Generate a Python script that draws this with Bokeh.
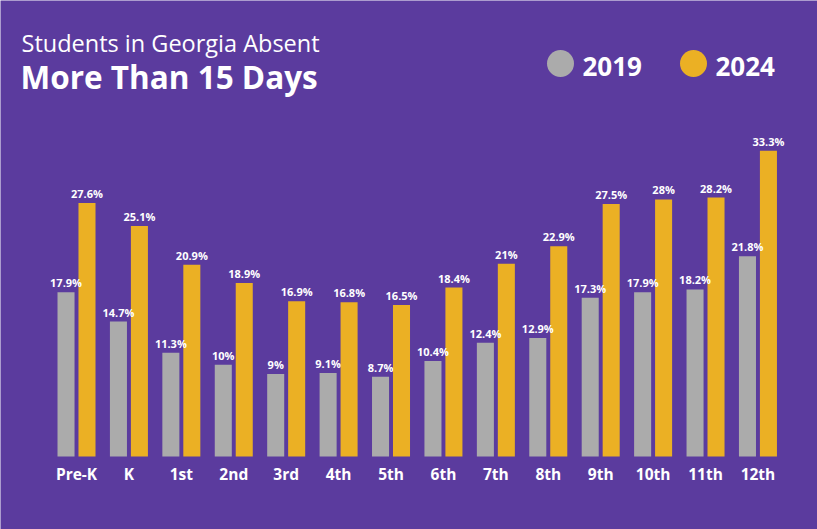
from bokeh.plotting import figure
from bokeh.models import ColumnDataSource, Range1d, Label
from bokeh.core.properties import value
from bokeh.embed import file_html
from bokeh.resources import INLINE

grades = ["Pre-K", "K", "1st", "2nd", "3rd", "4th", "5th", "6th", "7th", "8th", "9th", "10th", "11th", "12th"]
y2019 = [17.9, 14.7, 11.3, 10, 9, 9.1, 8.7, 10.4, 12.4, 12.9, 17.3, 17.9, 18.2, 21.8]
y2024 = [27.6, 25.1, 20.9, 18.9, 16.9, 16.8, 16.5, 18.4, 21, 22.9, 27.5, 28, 28.2, 33.3]
series = ["2019", "2024"]

BG = "#5b3b9e"
GRAY = "#ababab"
GOLD = "#ebb024"
FONT = "Open Sans"

W, H = 817, 529
X0, X1 = -1.450, 14.136
Y0, Y1 = -7.95, 49.67

p = figure(width=W, height=H, x_range=Range1d(X0, X1), y_range=Range1d(Y0, Y1),
           output_backend="svg", toolbar_location=None, min_border=0,
           x_axis_location=None, y_axis_location=None,
           background_fill_color=BG, border_fill_color=BG, outline_line_color=None)
p.grid.visible = False

idx = list(range(len(grades)))
off = 0.2
bw = 0.325
s19 = ColumnDataSource(dict(x=[i - off for i in idx], top=y2019,
                            lab=[f"{v:g}%" for v in y2019]))
s24 = ColumnDataSource(dict(x=[i + off for i in idx], top=y2024,
                            lab=[f"{v:g}%" for v in y2024]))
p.vbar(x="x", top="top", bottom=0, width=bw, source=s19, fill_color=GRAY, line_color=None)
p.vbar(x="x", top="top", bottom=0, width=bw, source=s24, fill_color=GOLD, line_color=None)

for src in (s19, s24):
    p.text(x="x", y="top", text="lab", source=src, text_align="center", text_baseline="bottom",
           y_offset=-2, text_color="white", text_font=value(FONT), text_font_style="bold",
           text_font_size="11px")

cs = ColumnDataSource(dict(x=idx, y=[0] * len(idx), t=grades))
p.text(x="x", y="y", text="t", source=cs, text_align="center", text_baseline="top",
       y_offset=6, text_color="white", text_font=value(FONT), text_font_style="bold",
       text_font_size="15.5px")

# title
p.add_layout(Label(x=21, y=H - 42, x_units="screen", y_units="screen",
                   text="Students in Georgia Absent", text_color="white",
                   text_font=FONT, text_font_size="23.5px", text_baseline="alphabetic"))
p.add_layout(Label(x=20, y=H - 76, x_units="screen", y_units="screen",
                   text="More Than 15 Days", text_color="white",
                   text_font=FONT, text_font_style="bold", text_font_size="31.5px",
                   text_baseline="alphabetic"))

# legend
def px2x(px):
    return X0 + px / W * (X1 - X0)

def py2y(py):
    return Y0 + (H - py) / H * (Y1 - Y0)

leg_px = [560, 693]
leg_cols = [GRAY, GOLD]
p.scatter(x=[px2x(v) for v in leg_px], y=[py2y(63)] * 2, size=27,
          fill_color=leg_cols, line_color=None)
for lx, name in zip(leg_px, series):
    p.add_layout(Label(x=lx + 22, y=H - 66, x_units="screen", y_units="screen",
                       text=name, text_color="white", text_font=FONT,
                       text_font_style="bold", text_font_size="26px",
                       text_baseline="alphabetic"))

open("out.html", "w").write(file_html(p, INLINE))
